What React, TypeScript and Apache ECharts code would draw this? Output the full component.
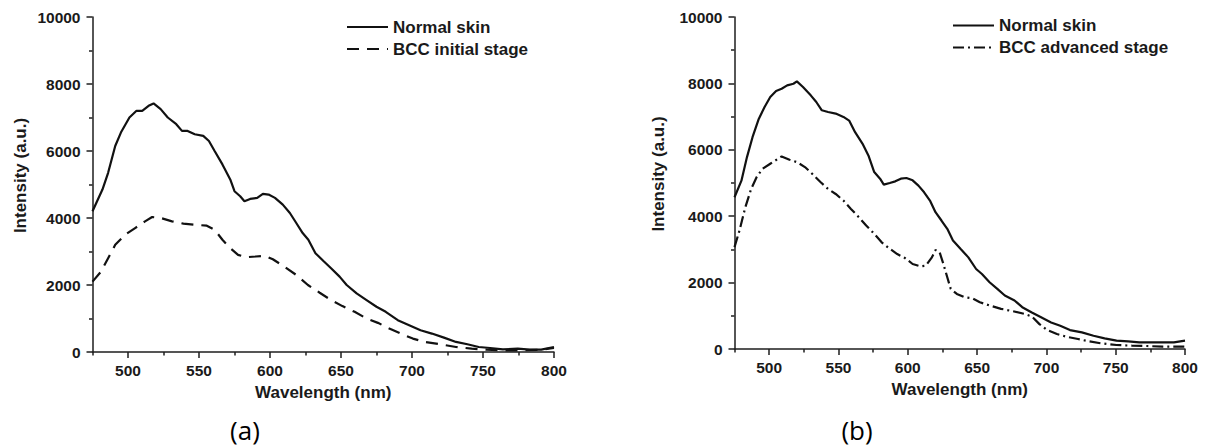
import React, { useEffect, useRef } from "react";
import * as echarts from "echarts";

// Panel (a)
const normalA_nm = [475,482,486,491,495,501,506,510,514.5,518,523,528,534,538,542,547,553,557,561,566.5,572,575,579,582,586,591,595,599,603.5,609,614,618.5,623,627,632,638,643,649,654,661,668,675,681.5,690,698,706,714,722.5,731,739,747,755,764,774.5,783,791,800];
const normalA_val = [4200,4850,5350,6150,6550,7000,7200,7200,7350,7420,7250,7000,6800,6600,6600,6500,6450,6300,6000,5600,5150,4800,4650,4500,4570,4600,4720,4700,4600,4400,4150,3850,3550,3350,2950,2700,2500,2250,2000,1750,1550,1350,1200,950,800,650,550,430,300,230,150,120,80,100,70,70,150];
const bccA_nm = [475,481,486,491,498,505,512,517,523,531,539,547,555.5,561,566.5,572,577.5,583,590,596.5,602,610,618.5,626.7,635,643,651,659.6,668,676,684,692,700.6,709,720,731,742,752.6,763.6,777,791,800];
const bccA_val = [2100,2400,2800,3200,3500,3700,3900,4030,4000,3900,3830,3800,3770,3650,3350,3100,2900,2830,2850,2870,2770,2550,2300,2000,1770,1550,1370,1200,1000,870,700,550,400,300,230,150,100,70,50,50,70,120];

// Panel (b)
const normalB_nm = [475,480,484,488,492.5,496.7,500.8,505,509,513,517.5,520,524.4,530,534,538,542.5,548,553.6,557.7,562,567.4,571.6,575.8,580,582.7,587,591,595,599,603.5,607.7,611.8,616,620,624.3,628.5,632.6,638,643.7,649.3,653.5,659,664.6,670,677,682.6,689.5,696.5,703.4,710,717,725.6,734,742,750.6,759,767,775.6,784,792,800];
const normalB_val = [4570,5070,5780,6380,6930,7290,7590,7770,7840,7940,7990,8060,7890,7640,7440,7190,7140,7090,6990,6880,6530,6180,5830,5330,5130,4950,5000,5050,5130,5150,5080,4920,4720,4470,4120,3870,3620,3270,3020,2760,2410,2260,2010,1810,1610,1460,1260,1100,950,800,700,570,500,400,320,250,230,200,200,200,200,250];
const bccB_nm = [475,478.6,482.8,487,491,495.3,500.8,506.4,509,514.7,520,525.8,531,537,542.5,548,553.6,559,564.7,570,575.8,581,587,592.4,598,603.5,609,613,617.4,620,623,625.7,628.5,631,635.4,641,646.5,652,659,667.3,675.7,684,689.5,695,700.6,707.6,714.5,722.8,731,739.5,750.6,761.7,772.8,784,800];
const bccB_val = [3070,3570,4270,4820,5180,5430,5580,5730,5800,5700,5630,5480,5280,5030,4820,4670,4470,4220,3970,3720,3470,3220,3020,2860,2740,2560,2490,2510,2760,2980,2910,2560,2160,1810,1660,1560,1530,1410,1310,1210,1140,1060,980,750,570,450,370,300,230,170,120,100,90,70,70];

const xMajorTicks = [500, 550, 600, 650, 700, 750, 800];
const xMinorTicks = [475, 525, 575, 625, 675, 725, 775];
const seriesNames = ["Normal skin", "BCC initial stage", "BCC advanced stage"];
const captions = ["(a)", "(b)"];

const FONT = "'Liberation Sans', Arial, sans-serif";
const TXT = "#1a1a1a";
const AX = "#1e1e1e";

function pairs(xs: number[], ys: number[]) {
  return xs.map((x, i) => [x, ys[i]]);
}

function mainX(grid: number) {
  return {
    type: "value",
    gridIndex: grid,
    position: "bottom",
    min: 475,
    max: 800,
    name: "Wavelength (nm)",
    nameLocation: "middle",
    nameGap: 32,
    nameTextStyle: { fontFamily: FONT, fontWeight: "bold", fontSize: 17, color: TXT },
    axisLine: { show: true, lineStyle: { color: AX, width: 1.5 } },
    axisTick: { show: true, customValues: xMajorTicks, length: 6, lineStyle: { color: AX, width: 1.5 } },
    axisLabel: { customValues: xMajorTicks, margin: 10, fontFamily: FONT, fontWeight: "bold", fontSize: 15.5, color: TXT },
    splitLine: { show: false },
  };
}
function minorX(grid: number) {
  return {
    type: "value",
    gridIndex: grid,
    position: "bottom",
    min: 475,
    max: 800,
    axisLine: { show: false, onZero: false },
    axisTick: { show: true, customValues: xMinorTicks, length: 3.5, lineStyle: { color: AX, width: 1.5 } },
    axisLabel: { show: false },
    splitLine: { show: false },
  };
}
function mainY(grid: number, gap: number) {
  return {
    type: "value",
    gridIndex: grid,
    min: 0,
    max: 10000,
    interval: 2000,
    name: "Intensity (a.u.)",
    nameLocation: "middle",
    nameGap: gap,
    nameTextStyle: { fontFamily: FONT, fontWeight: "bold", fontSize: 17, color: TXT, padding: [0, 0, 0, 18] },
    axisLine: { show: true, lineStyle: { color: AX, width: 1.5 } },
    axisTick: { show: true, length: 6, lineStyle: { color: AX, width: 1.5 } },
    minorTick: { show: true, splitNumber: 2, length: 3.5, lineStyle: { color: AX, width: 1.5 } },
    axisLabel: {
      margin: 12,
      fontFamily: FONT,
      fontWeight: "bold",
      fontSize: 15.5,
      color: TXT,
      formatter: (v: number) => String(v),
    },
    splitLine: { show: false },
    minorSplitLine: { show: false },
  };
}

function lineSeries(name: string, data: number[][], xi: number, yi: number, type: any) {
  return {
    type: "line",
    name,
    xAxisIndex: xi,
    yAxisIndex: yi,
    data,
    symbol: "none",
    showSymbol: false,
    color: "#111",
    lineStyle: { color: "#111", width: 2.2, type },
  };
}

function legend(left: number, top: number, names: string[]) {
  return {
    orient: "vertical",
    left,
    top,
    padding: 0,
    itemWidth: 41,
    itemHeight: 14,
    itemGap: 5,
    selectedMode: false,
    data: names,
    itemStyle: { color: "rgba(0,0,0,0)", borderColor: "rgba(0,0,0,0)", borderWidth: 0, opacity: 0 },
    textStyle: { fontFamily: FONT, fontWeight: "bold", fontSize: 17, color: TXT },
  };
}

export default function App() {
  const ref = useRef<HTMLDivElement>(null);
  useEffect(() => {
    if (!ref.current) return;
    const chart = echarts.init(ref.current, undefined, { renderer: "svg" });
    chart.setOption({
      animation: false,
      backgroundColor: "#ffffff",
      grid: [
        { left: 92.5, top: 17, width: 461.5, height: 335 },
        { left: 734.5, top: 17, width: 450.5, height: 332 },
      ],
      xAxis: [mainX(0), minorX(0), mainX(1), minorX(1)],
      yAxis: [mainY(0, 64), mainY(1, 68)],
      legend: [
        legend(346, 18.5, [seriesNames[0], seriesNames[1]]),
        legend(952, 17, [seriesNames[0], seriesNames[2]]),
      ],
      series: [
        lineSeries(seriesNames[0], pairs(normalA_nm, normalA_val), 0, 0, "solid"),
        lineSeries(seriesNames[1], pairs(bccA_nm, bccA_val), 0, 0, [12, 8]),
        lineSeries(seriesNames[0], pairs(normalB_nm, normalB_val), 2, 1, "solid"),
        lineSeries(seriesNames[2], pairs(bccB_nm, bccB_val), 2, 1, [11, 4, 2, 4]),
      ],
      graphic: [
        {
          type: "text",
          x: 245,
          y: 430,
          style: { text: captions[0], fontFamily: "'Open Sans', sans-serif", fontSize: 26, fill: "#000", align: "center", verticalAlign: "middle" },
        },
        {
          type: "text",
          x: 857,
          y: 430,
          style: { text: captions[1], fontFamily: "'Open Sans', sans-serif", fontSize: 26, fill: "#000", align: "center", verticalAlign: "middle" },
        },
      ],
    });
    return () => chart.dispose();
  }, []);
  return (
    <div
      ref={ref}
      style={{ position: "absolute", left: 0, top: 0, width: 1205, height: 448, background: "#fff" }}
    />
  );
}
